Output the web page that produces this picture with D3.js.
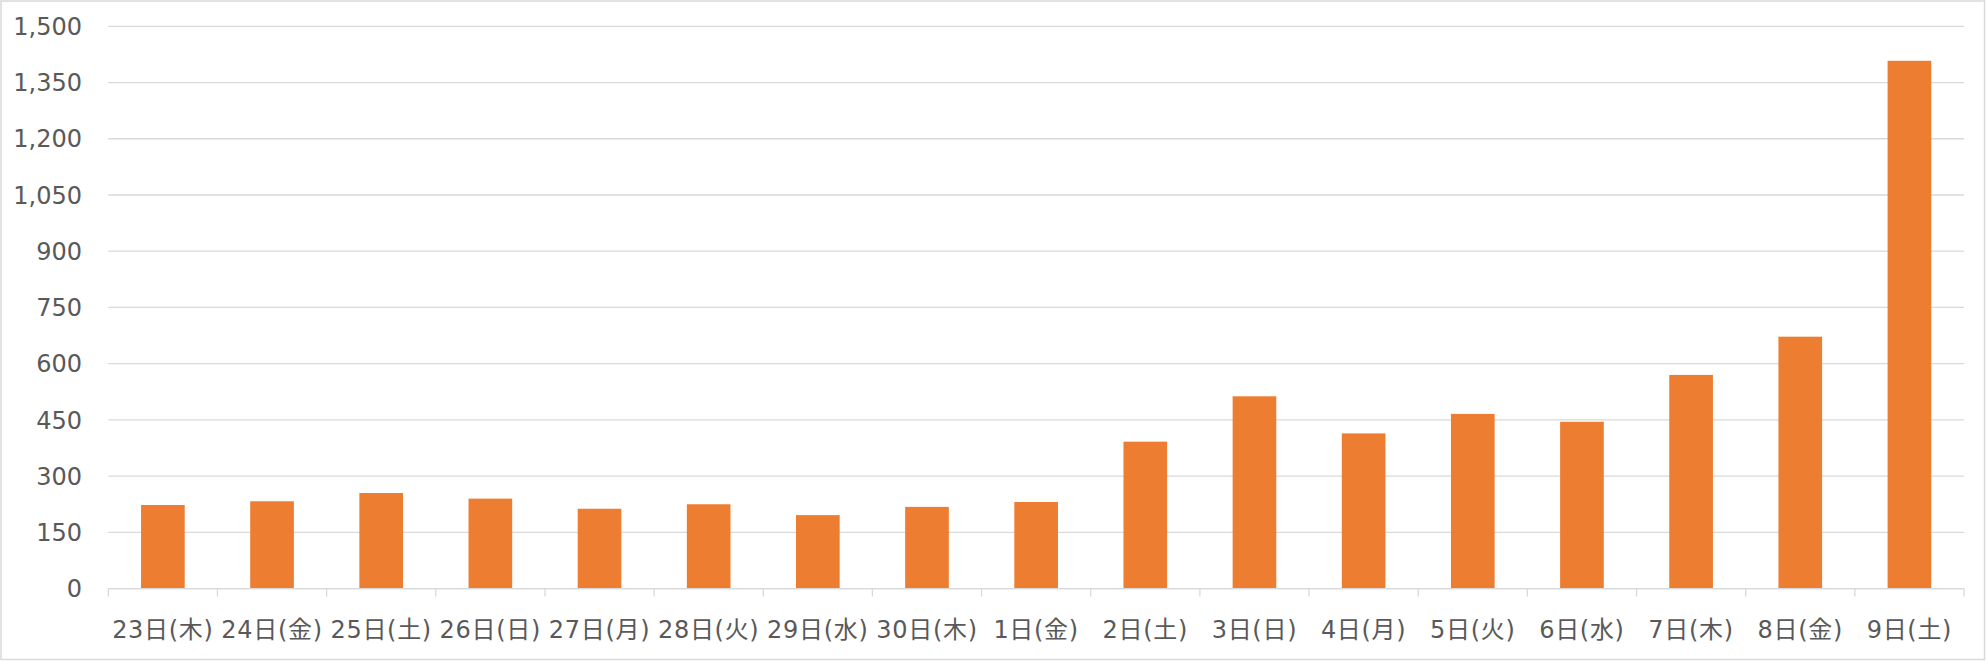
<!DOCTYPE html>
<html>
<head>
<meta charset="utf-8">
<script src="https://cdn.jsdelivr.net/npm/d3@7"></script>
<style>
html,body{margin:0;padding:0;background:#fff;}
svg{display:block;}
text{font-family:"DejaVu Sans","Noto Sans CJK JP",sans-serif;fill:#595959;}
</style>
</head>
<body>
<svg id="chart" width="1986" height="661"></svg>
<script>
const categories = ["23日(木)","24日(金)","25日(土)","26日(日)","27日(月)","28日(火)","29日(水)","30日(木)","1日(金)","2日(土)","3日(日)","4日(月)","5日(火)","6日(水)","7日(木)","8日(金)","9日(土)"];
const values = [223,233,255,240,213,225,196,218,231,392,513,414,466,445,570,672,1408];
const yTicks = [0,150,300,450,600,750,900,1050,1200,1350,1500];

const W = 1986, H = 661;
const margin = {left:108.3, right:W-1964, top:26.3, bottom:H-588.6};
const svg = d3.select("#chart");

svg.append("rect").attr("x",1).attr("y",1).attr("width",W-2.5).attr("height",H-2.5)
  .attr("fill","#fff").attr("stroke","#d9d9d9").attr("stroke-width",1.5);

const x = d3.scaleBand().domain(categories).range([margin.left, W-margin.right]).padding(0);
const y = d3.scaleLinear().domain([0,1500]).range([H-margin.bottom, margin.top]);

// gridlines
svg.append("g").selectAll("line").data(yTicks).join("line")
  .attr("x1",margin.left).attr("x2",W-margin.right)
  .attr("y1",d=>y(d)).attr("y2",d=>y(d))
  .attr("stroke","#d9d9d9").attr("stroke-width",1.3);

// y labels
const fmt = d3.format(",");
svg.append("g").selectAll("text").data(yTicks).join("text")
  .attr("x",82).attr("y",d=>y(d)).attr("dy","0.36em")
  .attr("text-anchor","end").attr("font-size",24)
  .text(d=>fmt(d));

// bars
const bw = x.bandwidth()*0.4;
svg.append("g").selectAll("rect").data(values).join("rect")
  .attr("x",(d,i)=>x(categories[i]) + (x.bandwidth()-bw)/2)
  .attr("width",bw)
  .attr("y",d=>y(d))
  .attr("height",d=>y(0)-y(d))
  .attr("fill","#ED7D31");

// x axis
const base = y(0);
svg.append("line").attr("x1",margin.left).attr("x2",W-margin.right)
  .attr("y1",base).attr("y2",base).attr("stroke","#d9d9d9").attr("stroke-width",1.3);
const bounds = categories.map(c=>x(c)).concat([x(categories[categories.length-1])+x.bandwidth()]);
svg.append("g").selectAll("line").data(bounds).join("line")
  .attr("x1",d=>d).attr("x2",d=>d).attr("y1",base).attr("y2",base+8)
  .attr("stroke","#d9d9d9").attr("stroke-width",1.3);

svg.append("g").selectAll("text").data(categories).join("text")
  .attr("x",d=>x(d)+x.bandwidth()/2).attr("y",638)
  .attr("text-anchor","middle").attr("font-size",24).attr("letter-spacing",0.7)
  .text(d=>d);
</script>
</body>
</html>
